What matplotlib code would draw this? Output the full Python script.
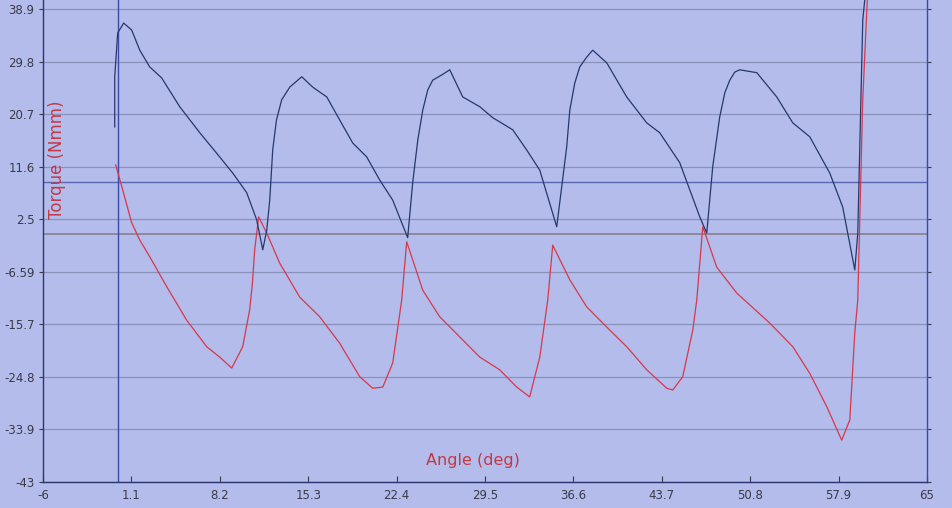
import matplotlib
matplotlib.use("Agg")
import matplotlib.pyplot as plt

# Navy (upper) torque trace: angle (deg), torque (Nmm)
navy_x = [-0.24, -0.24, 0.0, 0.48, 1.12, 1.77, 2.57, 3.53, 4.98, 6.59, 8.19, 9.24, 10.36, 11.16,
          11.65, 11.97, 12.21, 12.45, 12.75, 13.17, 13.82, 14.78, 15.66, 16.79, 17.83, 18.88, 20.0,
          21.04, 22.09, 23.29, 23.69, 24.1, 24.5, 24.9, 25.3, 26.02, 26.67, 27.71, 29.08, 30.12,
          31.73, 32.85, 33.9, 35.26, 35.66, 36.06, 36.31, 36.71, 37.11, 37.67, 38.15, 39.28, 40.88,
          42.49, 43.53, 45.14, 46.75, 47.31, 47.79, 48.09, 48.35, 48.76, 49.16, 49.56, 49.96, 51.33,
          52.93, 54.22, 55.58, 57.19, 58.23, 59.2, 59.44, 59.84, 60.16]
navy_y = [18.5, 27.2, 34.8, 36.5, 35.3, 31.8, 28.9, 27.0, 22.0, 17.5, 13.3, 10.5, 7.1, 2.4,
          -2.8, 0.6, 5.8, 14.5, 19.7, 23.2, 25.4, 27.2, 25.4, 23.7, 19.7, 15.7, 13.3,
          9.3, 5.8, -0.7, 8.8, 16.2, 21.4, 24.9, 26.6, 27.5, 28.4, 23.7, 22.0, 20.1,
          18.0, 14.5, 11.0, 1.2, 8.1, 15.0, 21.4, 26.1, 28.9, 30.6, 31.8, 29.6, 23.7,
          19.2, 17.5, 12.3, 2.9, 0.1, 11.6, 16.2, 20.2, 24.4, 26.6, 28.0, 28.4, 27.9,
          23.7, 19.2, 16.8, 10.5, 4.6, -6.3, 0.1, 37.0, 44.0]

# Red (lower) torque trace
red_x = [-0.16, 0.4, 1.12, 1.77, 2.57, 3.94, 5.54, 7.15, 8.19, 9.16, 10.04, 10.6, 10.82, 11.0,
         11.32, 11.97, 13.01, 14.62, 16.22, 17.83, 19.44, 20.48, 21.29, 22.09, 22.81, 23.21, 24.5,
         25.86, 27.47, 29.08, 30.68, 32.05, 33.09, 33.9, 34.54, 34.94, 36.31, 37.67, 39.28, 40.88,
         42.49, 44.1, 44.58, 45.38, 46.19, 46.51, 46.99, 48.11, 49.72, 52.37, 54.22, 55.58, 56.95,
         58.15, 58.8, 59.2, 59.44, 59.84, 60.24]
red_y = [11.9, 7.6, 1.9, -1.1, -4.0, -9.2, -15.0, -19.6, -21.4, -23.3, -19.6, -13.2, -8.6, -2.8,
         2.9, 0.1, -5.1, -11.0, -14.4, -19.0, -24.8, -26.8, -26.6, -22.4, -11.5, -1.4, -9.8,
         -14.4, -17.9, -21.4, -23.6, -26.6, -28.3, -21.4, -11.5, -2.0, -8.0, -12.7, -16.2, -19.6,
         -23.6, -26.8, -27.1, -24.8, -16.7, -11.5, 1.2, -5.8, -10.3, -15.5, -19.6, -24.2, -30.0,
         -35.8, -32.3, -17.2, -11.5, 23.2, 42.2]

x_ticks = [-6, 1.1, 8.2, 15.3, 22.4, 29.5, 36.6, 43.7, 50.8, 57.9, 65]
x_tick_labels = ["-6", "1.1", "8.2", "15.3", "22.4", "29.5", "36.6", "43.7", "50.8", "57.9", "65"]
y_ticks = [38.9, 29.8, 20.7, 11.6, 2.5, -6.59, -15.7, -24.8, -33.9, -43]
y_tick_labels = ["38.9", "29.8", "20.7", "11.6", "2.5", "-6.59", "-15.7", "-24.8", "-33.9", "-43"]
blue_level = 9.0
zero_level = 0.0
start_angle = 0.0

bg = "#b3bcea"
fig = plt.figure(figsize=(9.53, 5.08), dpi=100, facecolor=bg)
ax = fig.add_axes([43 / 953, 26.3 / 508, 884 / 953, 481.7 / 508])
ax.set_facecolor(bg)
ax.set_xlim(-6, 65)
ax.set_ylim(-43, 40.5)

for yv in y_ticks:
    ax.axhline(yv, color="#8a92bc", lw=0.9, zorder=1)
ax.axhline(blue_level, color="#5866b0", lw=1.0, zorder=1)
ax.axhline(zero_level, color="#857a86", lw=1.1, zorder=1)
ax.axvline(start_angle, color="#3a4aa8", lw=1.0, zorder=1)

ax.plot(red_x, red_y, color="#d8384c", lw=0.9, zorder=3)
ax.plot(navy_x, navy_y, color="#27386c", lw=0.9, zorder=4)

ax.set_xticks(x_ticks)
ax.set_xticklabels(x_tick_labels)
ax.set_yticks(y_ticks)
ax.set_yticklabels(y_tick_labels)
ax.tick_params(axis="x", direction="in", length=4, pad=5, labelsize=8.5,
               colors="#3a3a48", width=0.8)
ax.tick_params(axis="y", direction="out", length=3, pad=3, labelsize=8.5,
               colors="#3a3a48", width=0.8, right=True)

ax.spines["top"].set_visible(False)
ax.spines["left"].set_color("#2c3570")
ax.spines["bottom"].set_color("#2c3570")
ax.spines["right"].set_color("#3a4aa8")
for s in ["left", "bottom", "right"]:
    ax.spines[s].set_linewidth(1.0)

fig.text(57 / 953, 1 - 160 / 508, "Torque (Nmm)", rotation=90, color="#c23a48",
         fontsize=12, ha="center", va="center")
fig.text(473 / 953, 1 - 460 / 508, "Angle (deg)", color="#c23a48",
         fontsize=11.5, ha="center", va="center")

fig.savefig("out.png", dpi=100, facecolor=bg)
